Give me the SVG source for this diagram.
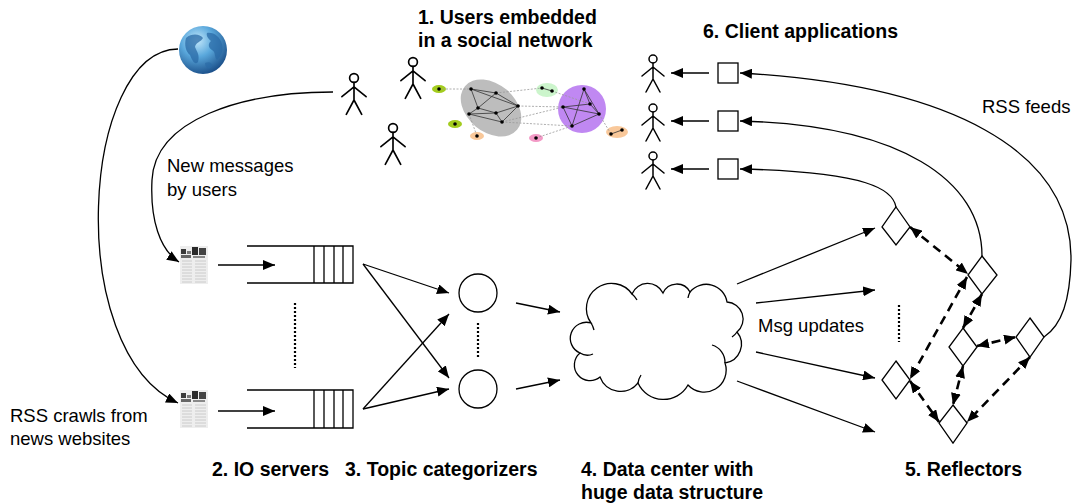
<svg xmlns="http://www.w3.org/2000/svg" width="1074" height="504" viewBox="0 0 1074 504">
  <style>
    .lbl { font-family: "Liberation Sans", Arial, sans-serif; font-size: 18.5px; fill: #000; }
    .ttl { font-family: "Liberation Sans", Arial, sans-serif; font-size: 19.5px; font-weight: bold; fill: #000; }
    .ln { fill: none; stroke: #000; stroke-width: 1.3; }
    .arr { fill: none; stroke: #000; stroke-width: 1.3; marker-end: url(#ah); }
    .dash { fill: none; stroke: #000; stroke-width: 2.6; stroke-dasharray: 9 6; marker-start: url(#ahs); marker-end: url(#ah); }
    .dots { fill: none; stroke: #000; stroke-width: 2.2; stroke-dasharray: 2 2; }
    .shape { fill: #fff; stroke: #000; stroke-width: 1.3; }
    .fig { fill: none; stroke: #000; stroke-width: 1.5; stroke-linecap: round; }
    .sn-edge { stroke: #333; stroke-width: 0.8; fill: none; }
    .sn-link { stroke: #999; stroke-width: 0.8; stroke-dasharray: 2 1.5; fill: none; }
    .sn-node { fill: #000; }
  </style>
  <defs>
    <marker id="ah" viewBox="0 0 12 10" refX="12" refY="5" markerWidth="12" markerHeight="10" markerUnits="userSpaceOnUse" orient="auto">
      <path d="M0,0 L12,5 L0,10 Z" fill="#000"/>
    </marker>
    <marker id="ahs" viewBox="0 0 12 10" refX="12" refY="5" markerWidth="12" markerHeight="10" markerUnits="userSpaceOnUse" orient="auto-start-reverse">
      <path d="M0,0 L12,5 L0,10 Z" fill="#000"/>
    </marker>
    <radialGradient id="globeFill" cx="0.38" cy="0.3" r="0.75">
      <stop offset="0" stop-color="#c4e8fb"/>
      <stop offset="0.45" stop-color="#5aa8dc"/>
      <stop offset="1" stop-color="#174a85"/>
    </radialGradient>
    <!-- stick person, origin at head centre -->
    <symbol id="person" overflow="visible">
      <g class="fig">
        <circle cx="0" cy="0" r="4"/>
        <path d="M0,4 V20 M0,8 L-11,17 M0,8 L11,17 M0,20 L-7,33 M0,20 L7,33"/>
      </g>
    </symbol>
    <!-- newspaper page icon -->
    <symbol id="paper" overflow="visible">
      <rect x="0" y="0" width="28" height="38" fill="#eeeeee"/>
      <rect x="1" y="3" width="5" height="5" fill="#3a3a3a"/>
      <rect x="7" y="5" width="4" height="3" fill="#777"/>
      <rect x="12" y="1" width="6" height="8" fill="#2a2a2a"/>
      <rect x="19" y="2" width="7" height="7" fill="#444"/>
      <rect x="1" y="9" width="10" height="3" fill="#666"/>
      <rect x="13" y="10" width="12" height="2" fill="#888"/>
      <g stroke="#c2c2c2" stroke-width="0.8">
        <path d="M2,15 H12 M2,18 H12 M2,21 H12 M2,24 H12 M2,27 H12 M2,30 H12 M2,33 H12 M2,36 H12"/>
        <path d="M15,15 H26 M15,18 H26 M15,21 H26 M15,24 H26 M15,27 H26 M15,30 H26 M15,33 H26 M15,36 H26"/>
      </g>
    </symbol>
  </defs>

  <rect width="1074" height="504" fill="#fff"/>

  <!-- titles and labels -->
  <g id="labels">
    <text class="ttl" x="418" y="24">1. Users embedded</text>
    <text class="ttl" x="418" y="47">in a social network</text>
    <text class="ttl" x="703" y="38">6. Client applications</text>
    <text class="lbl" x="982" y="113">RSS feeds</text>
    <text class="lbl" x="167" y="172">New messages</text>
    <text class="lbl" x="167" y="196">by users</text>
    <text class="lbl" x="10" y="422">RSS crawls from</text>
    <text class="lbl" x="10" y="445">news websites</text>
    <text class="lbl" x="758" y="332">Msg updates</text>
    <text class="ttl" x="212" y="476">2. IO servers</text>
    <text class="ttl" x="345" y="476">3. Topic categorizers</text>
    <text class="ttl" x="581" y="476">4. Data center with</text>
    <text class="ttl" x="581" y="499">huge data structure</text>
    <text class="ttl" x="905" y="476">5. Reflectors</text>
  </g>

  <!-- web globe -->
  <g id="globe">
    <circle cx="203" cy="50" r="24" fill="url(#globeFill)"/>
    <path d="M186,38 C192,33 200,34 203,38 C201,42 196,42 195,47 C197,52 200,55 198,62 C195,66 192,60 190,55 C186,52 184,45 186,38 Z" fill="#2a6aa6" opacity="0.75"/>
    <path d="M207,33 C214,32 220,37 222,44 C224,50 221,56 217,60 C214,57 216,52 212,50 C208,48 208,43 211,41 C208,38 206,36 207,33 Z" fill="#2a6aa6" opacity="0.75"/>
    <path d="M205,63 C209,61 213,63 212,67 C209,70 205,68 205,63 Z" fill="#2a6aa6" opacity="0.65"/>
  </g>

  <!-- users in the social network -->
  <g id="users">
    <use href="#person" transform="translate(354,78) scale(1.1)"/>
    <use href="#person" transform="translate(413,62) scale(1.1)"/>
    <use href="#person" transform="translate(393,128) scale(1.1)"/>
  </g>

  <!-- social network graph -->
  <g id="social-network">
    <ellipse cx="491" cy="108" rx="34" ry="24" transform="rotate(40 491 108)" fill="#bdbdbd"/>
    <ellipse cx="582" cy="109" rx="24" ry="24" fill="#c088f2"/>
    <ellipse cx="439" cy="89" rx="7" ry="4" fill="#a3cc1e"/>
    <ellipse cx="455" cy="124" rx="7" ry="4" fill="#a3cc1e"/>
    <ellipse cx="547" cy="90" rx="11" ry="7" fill="#ccf5cc"/>
    <ellipse cx="477" cy="136" rx="7" ry="4" fill="#f9c89a"/>
    <ellipse cx="536" cy="138" rx="7" ry="4" fill="#f39ac6"/>
    <ellipse cx="617" cy="132" rx="11" ry="6" fill="#f9c89a"/>
    <path class="sn-link" d="M439,89 L471,89 M496,93 L542,88 M518,106 L563,107 M502,122 L563,107 M502,122 L572,126 M469,114 L477,136 M536,138 L572,126 M599,114 L611,134 M552,91 L590,104"/>
    <path class="sn-edge" d="M471,89 L496,93 L518,106 L496,113 L502,122 L518,106 M471,89 L518,106 M471,89 L478,108 L496,113 L469,114 L478,108 L496,93 M469,114 L502,122"/>
    <path class="sn-edge" d="M584,89 L590,104 L599,114 L563,107 L590,104 M584,89 L572,126 L599,114 L584,89 M563,107 L572,126 M542,88 L552,91 M611,134 L622,130"/>
    <g class="sn-node">
      <circle cx="471" cy="89" r="1.8"/><circle cx="496" cy="93" r="1.8"/><circle cx="518" cy="106" r="1.8"/>
      <circle cx="478" cy="108" r="1.8"/><circle cx="469" cy="114" r="1.8"/><circle cx="496" cy="113" r="1.8"/>
      <circle cx="502" cy="122" r="1.8"/>
      <circle cx="584" cy="89" r="1.8"/><circle cx="590" cy="104" r="1.8"/><circle cx="563" cy="107" r="1.8"/>
      <circle cx="599" cy="114" r="1.8"/><circle cx="572" cy="126" r="1.8"/>
      <circle cx="439" cy="89" r="1.8"/><circle cx="455" cy="124" r="1.8"/><circle cx="542" cy="88" r="1.8"/>
      <circle cx="552" cy="91" r="1.8"/><circle cx="477" cy="136" r="1.8"/><circle cx="536" cy="138" r="1.8"/>
      <circle cx="611" cy="134" r="1.8"/><circle cx="622" cy="130" r="1.8"/>
    </g>
  </g>

  <!-- client applications -->
  <g id="clients">
    <use href="#person" transform="translate(653,59)"/>
    <use href="#person" transform="translate(653,108)"/>
    <use href="#person" transform="translate(653,156)"/>
    <rect class="shape" x="718" y="63" width="20" height="20"/>
    <rect class="shape" x="718" y="111" width="20" height="20"/>
    <rect class="shape" x="718" y="159" width="20" height="20"/>
  </g>

  <!-- message sources -->
  <g id="sources">
    <use href="#paper" x="180" y="246"/>
    <use href="#paper" x="180" y="390"/>
  </g>

  <!-- IO server queues -->
  <g id="io-servers">
    <path class="ln" d="M247,246 H353 V283 H247 M314,246 V283 M324,246 V283 M334,246 V283 M343,246 V283"/>
    <path class="ln" d="M247,390 H353 V428 H247 M314,390 V428 M324,390 V428 M334,390 V428 M343,390 V428"/>
    <path class="dots" d="M295,303 V368"/>
  </g>

  <!-- topic categorizers -->
  <g id="categorizers">
    <circle class="shape" cx="478" cy="293" r="19"/>
    <circle class="shape" cx="478" cy="389" r="19"/>
    <path class="dots" d="M478,323 V358"/>
  </g>

  <!-- data center cloud -->
  <g id="data-center">
    <path class="shape" d="M591,323 A 24,24 0 0 1 632,294 A 17,17 0 0 1 663,293 A 15,15 0 0 1 690,292 A 21,21 0 0 1 727,302 A 17,17 0 0 1 737,332 A 19,19 0 0 1 725,363 A 22,22 0 0 1 688,385 A 28,28 0 0 1 638,383 A 22,22 0 0 1 600,377 A 14,14 0 0 1 580,353 A 16,16 0 0 1 591,323 Z"/>
    <path class="ln" d="M591,323 A 20,20 0 0 1 594,330 M632,294 A 20,20 0 0 1 637,300 M690,292 A 20,20 0 0 0 688,298 M737,332 A 18,18 0 0 1 732,337 M712,345 A 18,18 0 0 1 725,363 M580,353 A 14,14 0 0 0 593,354 M638,383 A 20,20 0 0 1 641,375"/>
  </g>

  <!-- reflectors -->
  <g id="reflectors">
    <path class="shape" d="M896,207 L910,227 L896,245 L882,227 Z"/>
    <path class="shape" d="M982,256 L997,275 L982,294 L968,275 Z"/>
    <path class="shape" d="M963,328 L977,347 L963,366 L949,347 Z"/>
    <path class="shape" d="M1030,318 L1044,337 L1030,357 L1016,337 Z"/>
    <path class="shape" d="M896,361 L910,380 L896,399 L882,380 Z"/>
    <path class="shape" d="M953,405 L967,423 L953,443 L939,423 Z"/>
    <path class="dots" d="M899,305 V342"/>
  </g>

  <!-- connectors -->
  <g id="connectors">
    <path class="arr" d="M178,49 C82,50 62,350 178,403"/>
    <path class="arr" d="M333,92 C240,92 155,120 152,180 C150,220 160,250 179,262"/>
    <path class="arr" d="M218,265 H275"/>
    <path class="arr" d="M218,411 H275"/>
    <path class="arr" d="M363,264 L449,293"/>
    <path class="arr" d="M363,264 L449,378"/>
    <path class="arr" d="M363,409 L449,314"/>
    <path class="arr" d="M363,409 L449,389"/>
    <path class="arr" d="M516,303 L560,312"/>
    <path class="arr" d="M516,389 L560,380"/>
    <path class="arr" d="M737,284 L875,228"/>
    <path class="arr" d="M756,303 L875,290"/>
    <path class="arr" d="M756,352 L875,378"/>
    <path class="arr" d="M737,381 L875,432"/>
    <path class="dash" d="M910,227 L968,274"/>
    <path class="dash" d="M967,277 L910,379"/>
    <path class="dash" d="M982,294 L963,328"/>
    <path class="dash" d="M977,346 L1016,337"/>
    <path class="dash" d="M963,366 L953,405"/>
    <path class="dash" d="M910,381 L939,422"/>
    <path class="dash" d="M1030,357 L967,422"/>
    <path class="arr" d="M1044,337 C1062,325 1070,300 1071,260 C1072,150 950,85 740,73"/>
    <path class="arr" d="M982,256 C982,180 900,125 740,121"/>
    <path class="arr" d="M896,207 C893,190 870,172 740,169"/>
    <path class="arr" d="M709,73 H671"/>
    <path class="arr" d="M709,121 H671"/>
    <path class="arr" d="M709,169 H671"/>
  </g>
</svg>
